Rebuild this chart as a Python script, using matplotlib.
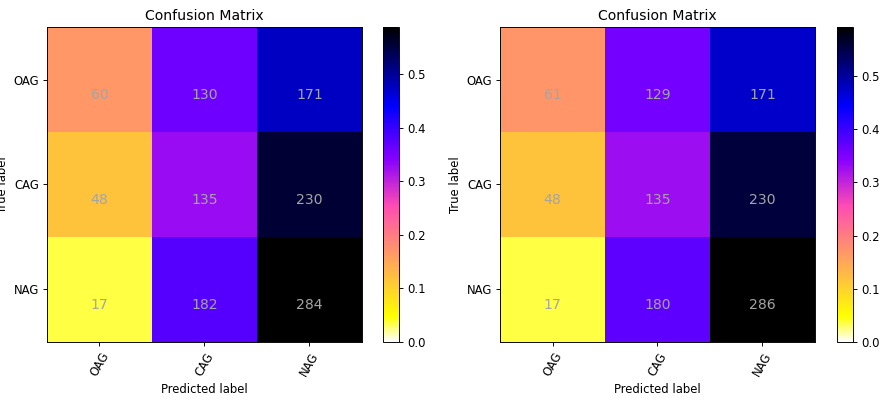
import numpy as np
import matplotlib
matplotlib.use("Agg")
import matplotlib.pyplot as plt

classes = ['OAG', 'CAG', 'NAG']

# counts
cm_left = np.array([[60, 130, 171],
                    [48, 135, 230],
                    [17, 182, 284]])
cm_right = np.array([[61, 129, 171],
                     [48, 135, 230],
                     [17, 180, 286]])


def plot_confusion_matrix(ax, cax, cm, title='Confusion Matrix'):
    # colour by row-normalised values, annotate with raw counts
    cm_norm = cm.astype(float) / cm.sum(axis=1)[:, np.newaxis]
    im = ax.imshow(cm_norm, interpolation='nearest', cmap='gnuplot2_r', vmin=0)
    ax.set_title(title)
    plt.colorbar(im, cax=cax)
    ticks = np.arange(len(classes))
    ax.set_xticks(ticks)
    ax.set_xticklabels(classes, rotation=60)
    ax.set_yticks(ticks)
    ax.set_yticklabels(classes)
    for i in range(cm.shape[0]):
        for j in range(cm.shape[1]):
            ax.text(j, i + 0.15, str(cm[i, j]), ha='center', va='center',
                    color='#a5a5a5', fontsize=12)
    ax.set_ylabel('True label')
    ax.set_xlabel('Predicted label')


fig = plt.figure(figsize=(893 / 84, 416 / 84), dpi=84)

ax1 = fig.add_axes([0.0526, 0.178, 0.3527, 0.757])
cax1 = fig.add_axes([0.4289, 0.178, 0.0179, 0.757])
ax2 = fig.add_axes([0.5599, 0.178, 0.3527, 0.757])
cax2 = fig.add_axes([0.9373, 0.178, 0.0179, 0.757])

plot_confusion_matrix(ax1, cax1, cm_left)
plot_confusion_matrix(ax2, cax2, cm_right)

plt.savefig("out.png", dpi=84)
